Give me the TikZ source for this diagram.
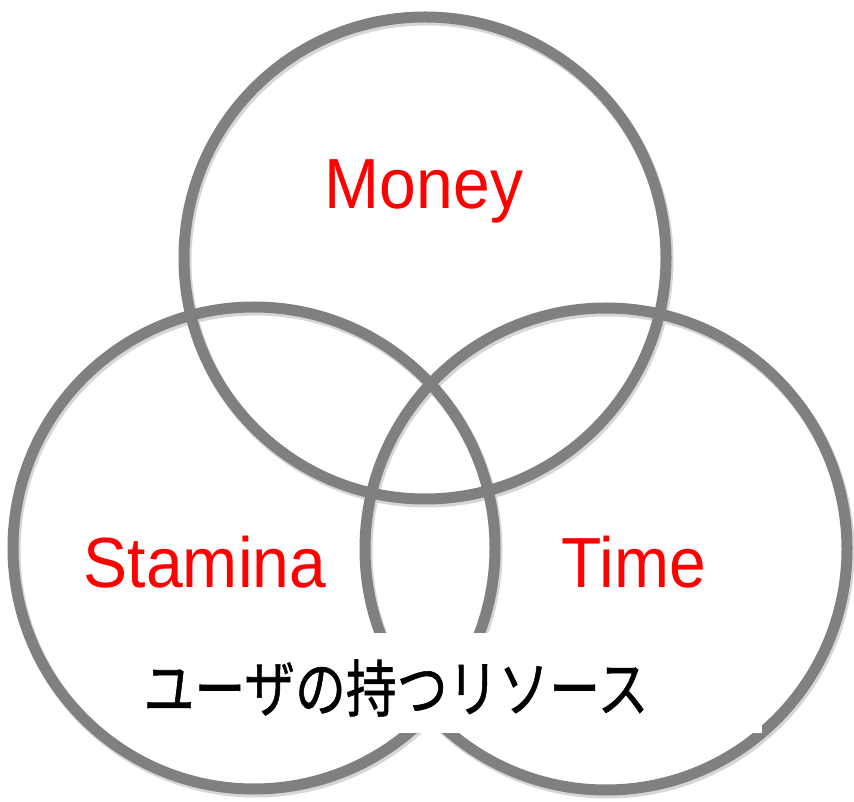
\documentclass[tikz,border=0pt]{standalone}
\usepackage{fontspec}
\setmainfont{Liberation Sans}
\newfontfamily\cjk[FakeBold=1]{Noto Sans CJK JP}
\definecolor{ringgray}{HTML}{808080}
\definecolor{lblred}{HTML}{FF0000}
\begin{document}
\begin{tikzpicture}[x=1pt,y=1pt,
  ring/.style={draw=ringgray,line width=11pt},
  ringshadow/.style={draw=black!16,line width=12pt},
  lbl/.style={text=lblred,font=\fontsize{71}{80}\selectfont,xscale=0.93,anchor=base,inner sep=0pt},
  caption/.style={font=\cjk\fontsize{62}{72}\selectfont,xscale=0.82,inner sep=0pt}]
\useasboundingbox[fill=white] (0,0) rectangle (854,801);
% shadows
\draw[ringshadow] (426.5,540.5) circle (241);
\draw[ringshadow] (255.5,250.5) circle (241);
\draw[ringshadow] (607.5,249.5) circle (241);
% rings
\draw[ring] (425,543) circle (241);
\draw[ring] (254,253) circle (241);
\draw[ring] (606,252) circle (241);
% caption box
\fill[white] (110,68) rectangle (762,168);
% labels
\node[lbl] (money) at (424,592) {Money};
\node[lbl] (stamina) at (205,213) {Stamina};
\node[lbl] (time) at (634,213) {Time};
\node[caption] (cap) at (396,113) {ユーザの持つリソース};
\end{tikzpicture}
\end{document}
